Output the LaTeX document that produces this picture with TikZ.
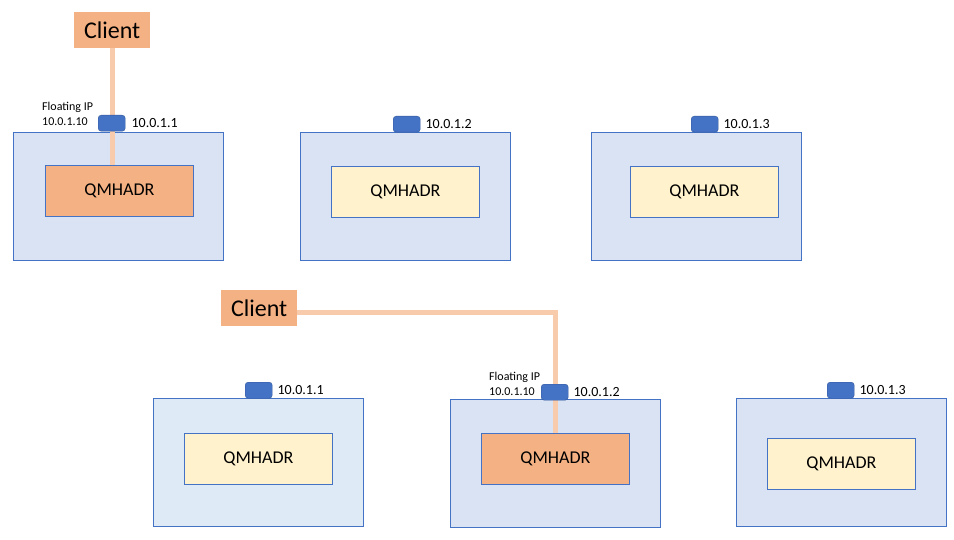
\documentclass[tikz,border=0pt]{standalone}
\usepackage{fontspec}
\setmainfont{Carlito}
\definecolor{hostfill}{HTML}{DAE3F3}
\definecolor{hostfillb}{HTML}{DEEBF7}
\definecolor{edgeblue}{HTML}{4472C4}
\definecolor{qmyellow}{HTML}{FFF2CC}
\definecolor{qmorange}{HTML}{F4B183}
\definecolor{linkpeach}{HTML}{F8CBAD}
\begin{document}
\begin{tikzpicture}[x=1pt,y=-1pt,
  host/.style={draw=edgeblue,line width=0.9pt,fill=hostfill,minimum width=210pt,minimum height=128pt,anchor=north west,inner sep=0pt},
  qm/.style={draw=edgeblue,line width=0.8pt,minimum width=148pt,minimum height=51pt,anchor=north west,inner sep=0pt,font=\fontsize{18}{20}\selectfont},
  client/.style={fill=qmorange,minimum width=76pt,minimum height=36pt,anchor=north west,inner sep=0pt,font=\fontsize{24}{26}\selectfont},
  port/.style={fill=edgeblue,draw=edgeblue!80!black,line width=0.4pt,rounded corners=3pt,minimum width=27pt,minimum height=16pt,anchor=north west,inner sep=0pt},
  iplabel/.style={anchor=west,inner sep=0pt,font=\fontsize{14}{16}\selectfont},
  floatlabel/.style={anchor=north west,inner sep=0pt,align=left,font=\fontsize{12}{15}\selectfont},
  link/.style={draw=linkpeach,line width=5pt}]
\useasboundingbox (0,0) rectangle (954,540);
% hosts
\node[host] (h1) at (13,132) {};
\node[host] (h2) at (300,132) {};
\node[host] (h3) at (591,132) {};
\node[host,fill=hostfillb] (h4) at (153,398) {};
\node[host] (h5) at (450,399) {};
\node[host] (h6) at (736,398) {};
% QMHADR
\node[qm,fill=qmorange] (q1) at (45,165) {QMHADR};
\node[qm,fill=qmyellow] (q2) at (331,166) {QMHADR};
\node[qm,fill=qmyellow] (q3) at (630,166) {QMHADR};
\node[qm,fill=qmyellow] (q4) at (184,433) {QMHADR};
\node[qm,fill=qmorange] (q5) at (481,433) {QMHADR};
\node[qm,fill=qmyellow] (q6) at (767,438) {QMHADR};
% clients
\node[client] (c1) at (74,12) {Client};
\node[client] (c2) at (221,290) {Client};
% links
\draw[link] (c1.south) -- (c1.south |- q1.north);
\coordinate (c2out) at ([yshift=-4pt]c2.east);
\draw[link] (c2out) -| (q5.north);
% ports
\node[port] (p1) at (98,115) {};
\node[port] (p2) at (393,116) {};
\node[port] (p3) at (691,116) {};
\node[port] (p4) at (245,382) {};
\node[port] (p5) at (541,384) {};
\node[port] (p6) at (827,382) {};
% ip labels
\node[iplabel] (l1) at ([xshift=6pt]p1.east) {10.0.1.1};
\node[iplabel] (l2) at ([xshift=5pt]p2.east) {10.0.1.2};
\node[iplabel] (l3) at ([xshift=5pt]p3.east) {10.0.1.3};
\node[iplabel] (l4) at ([xshift=5pt]p4.east) {10.0.1.1};
\node[iplabel] (l5) at ([xshift=5pt]p5.east) {10.0.1.2};
\node[iplabel] (l6) at ([xshift=5pt]p6.east) {10.0.1.3};
\node[floatlabel] (f1) at (42,102) {Floating IP\\10.0.1.10};
\node[floatlabel] (f2) at (489,372) {Floating IP\\10.0.1.10};
\end{tikzpicture}
\end{document}
